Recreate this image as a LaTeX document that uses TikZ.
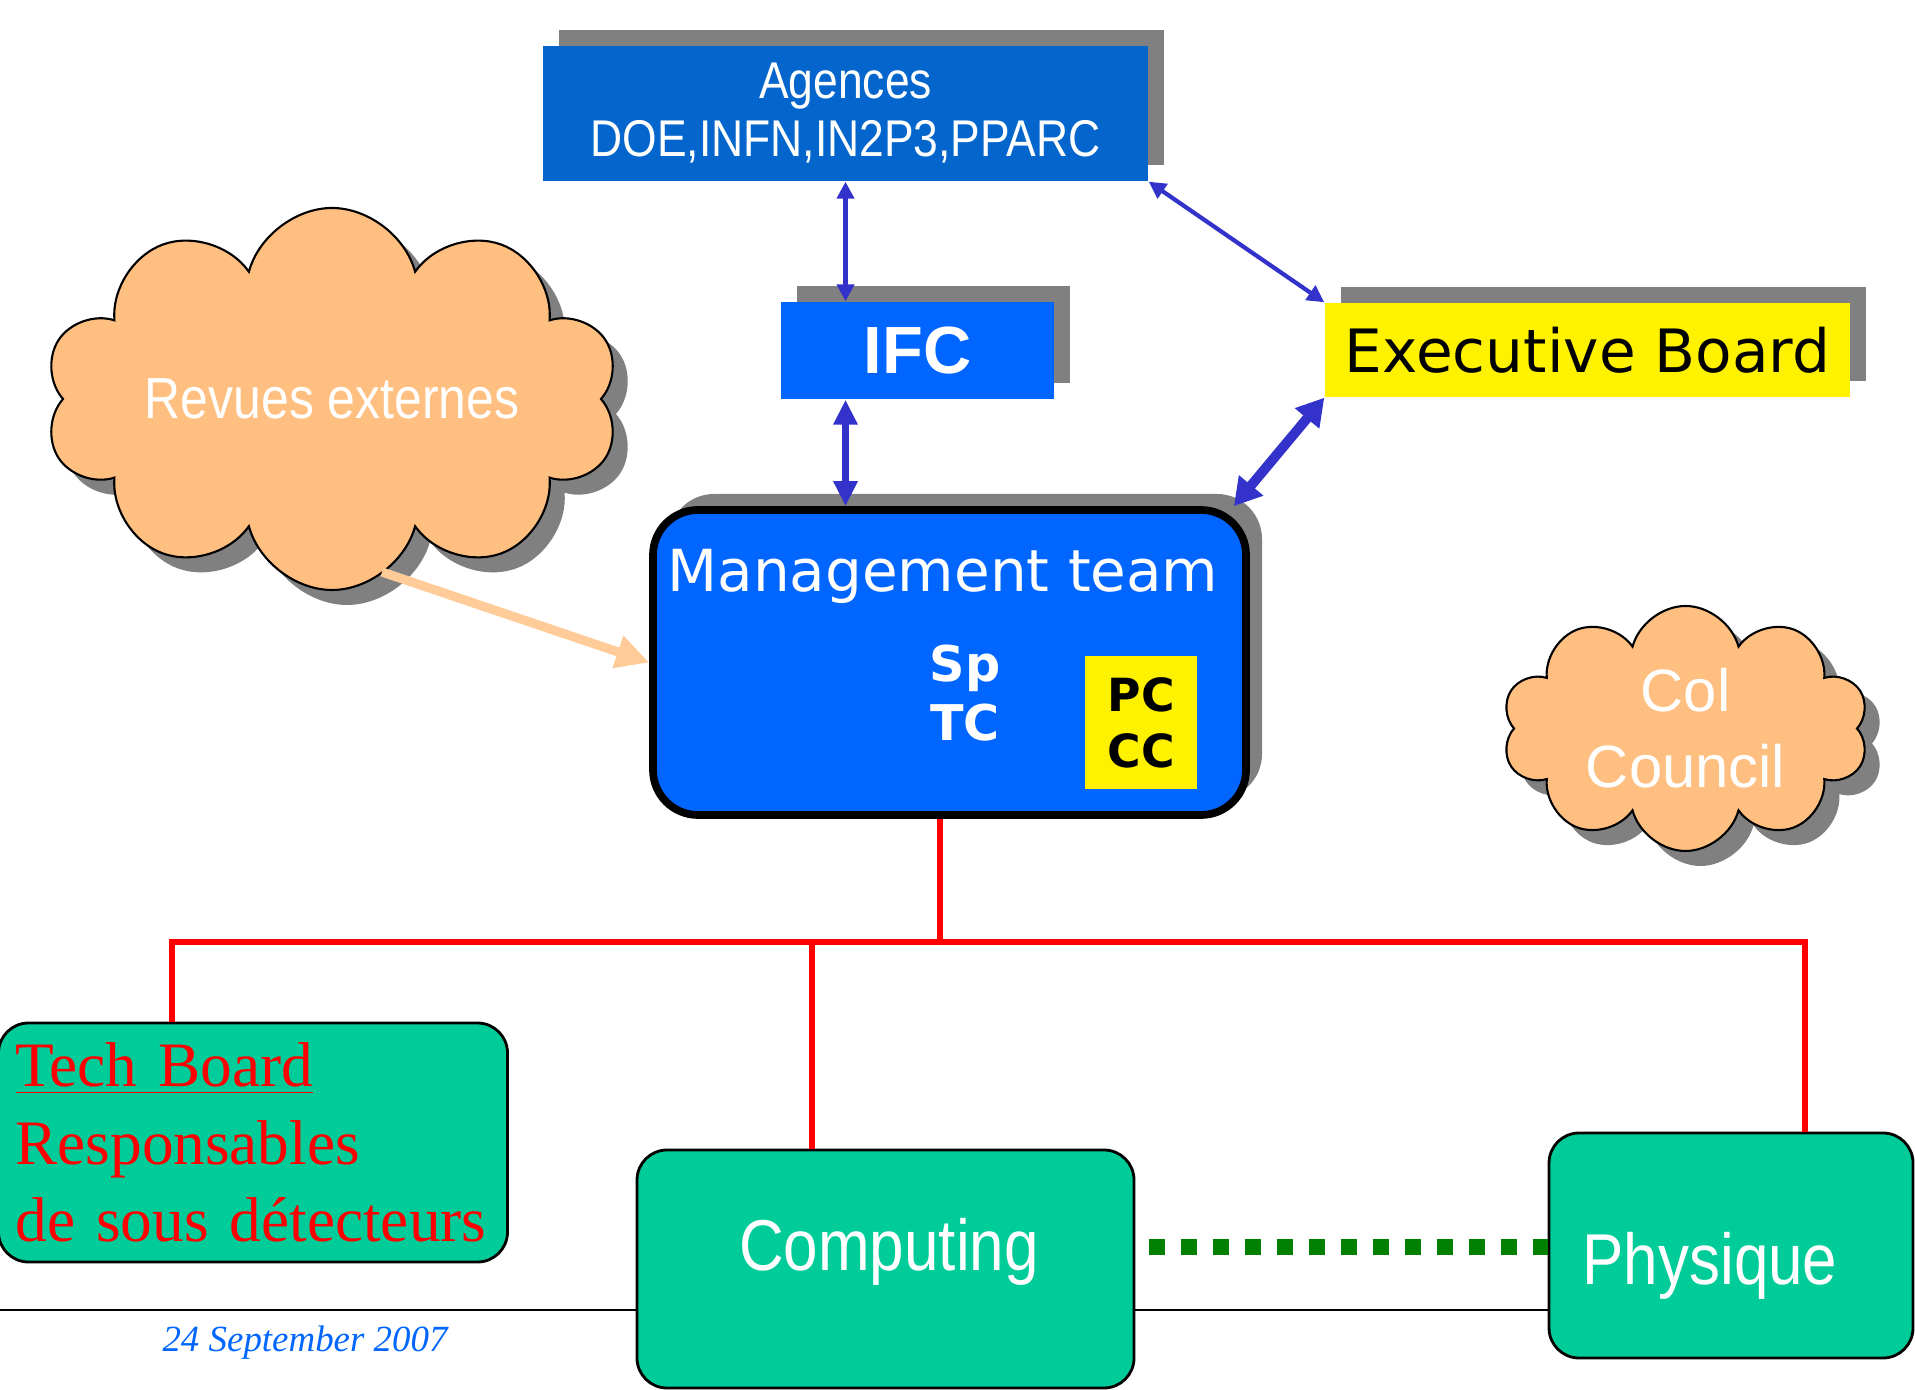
\documentclass[tikz,border=0pt]{standalone}
\usepackage{fontspec}
\setmainfont{Liberation Serif}
\setsansfont{Liberation Sans}
\newfontfamily\narrowfont[FakeStretch=0.86]{Liberation Sans}
\newfontfamily\roundfont{DejaVu Sans}
\definecolor{agblue}{RGB}{4,102,204}
\definecolor{boxblue}{RGB}{0,102,255}
\definecolor{arrblue}{RGB}{51,51,204}
\definecolor{shadowgray}{RGB}{128,128,128}
\definecolor{cloudorange}{RGB}{255,191,128}
\definecolor{lightorange}{RGB}{255,204,153}
\definecolor{teamgreen}{RGB}{0,204,153}
\definecolor{dotgreen}{RGB}{0,128,0}
\usetikzlibrary{shapes.symbols,shadows,arrows.meta}

\begin{document}
\begin{tikzpicture}[
  boxshadow/.style={drop shadow={shadow xshift=0.16cm, shadow yshift=0.16cm, fill=shadowgray, opacity=1}},
  cloudshadow/.style={drop shadow={shadow xshift=0.15cm, shadow yshift=-0.15cm, fill=shadowgray, opacity=1}},
  topbox/.style={rectangle, inner sep=0pt, boxshadow},
  puff/.style={cloud, cloud puffs=10, cloud ignores aspect, draw=black, line width=0.6pt, fill=cloudorange, inner sep=0pt, cloudshadow},
  cloudtext/.style={text=white, align=center},
  teambox/.style={rectangle, rounded corners=0.3cm, draw=black, line width=0.8pt, fill=teamgreen},
  teamtext/.style={text=white, font=\narrowfont\fontsize{20.5}{24}\selectfont},
  redline/.style={red, line width=1.9pt},
  thinarrow/.style={<->, arrblue, line width=1.2pt, >={Triangle[length=0.17cm, width=0.17cm]}},
  midarrow/.style={<->, arrblue, line width=2pt, >={Triangle[length=0.25cm, width=0.23cm]}},
  fatarrow/.style={<->, arrblue, line width=2.8pt, >={Triangle[length=0.27cm, width=0.30cm]}}
]
  \useasboundingbox (0,0) rectangle (19.15,13.89);

  %% Agences, IFC and Executive Board
  \node[topbox, fill=agblue, minimum width=6.05cm, minimum height=1.35cm, text=white, align=center,
        font=\narrowfont\fontsize{14.7}{16.5}\selectfont] (agences) at (8.455,12.755) {Agences\\DOE,INFN,IN2P3,PPARC};
  \node[topbox, fill=boxblue, minimum width=2.73cm, minimum height=0.97cm, text=white,
        font=\sffamily\bfseries\fontsize{19}{22}\selectfont] (ifc) at (9.175,10.385) {IFC};
  \node[topbox, fill=yellow, minimum width=5.25cm, minimum height=0.94cm,
        font=\roundfont\fontsize{17}{20}\selectfont] (exec) at (15.875,10.39) {Executive Board};

  %% Management team
  \node[topbox, fill=boxblue, draw=black, line width=2.2pt, rounded corners=0.45cm,
        minimum width=5.93cm, minimum height=3.05cm] (mgmt) at (9.495,7.265) {};
  \node[text=white, font=\roundfont\fontsize{16.5}{19}\selectfont] (mgmttitle) at (9.43,8.13) {Management team};
  \node[text=white, align=center, font=\roundfont\bfseries\fontsize{14}{17}\selectfont] (sptc) at (9.65,6.96) {Sp\\TC};
  \node[fill=yellow, minimum width=1.12cm, minimum height=1.33cm, inner sep=0pt, align=center,
        font=\roundfont\bfseries\fontsize{13}{16}\selectfont] (pccc) at (11.41,6.665) {PC\\CC};

  %% Clouds
  \node[puff, minimum width=5.75cm, minimum height=3.82cm,
        label={[cloudtext, font=\narrowfont\fontsize{16.5}{19}\selectfont]center:Revues externes}] (revues) at (3.32,9.90) {};
  \node[puff, minimum width=3.67cm, minimum height=2.45cm,
        label={[cloudtext, font=\sffamily\fontsize{17}{21.6}\selectfont]center:Col\\Council}] (colcouncil) at (16.855,6.605) {};

  %% Bottom rule and date
  \coordinate (rule) at (0,0.79);
  \node[text=boxblue, font=\itshape\fontsize{10.5}{12}\selectfont] (date) at (3.05,0.46) {24 September 2007};

  %% Teams
  \node[teambox, text width=4.75cm, inner xsep=0.17cm, minimum height=2.39cm, align=left, text=red,
        font=\fontsize{18}{22}\selectfont] (tech) at (2.53,2.465) {\underline{Tech Board}\\Responsables\\de sous détecteurs};
  \node[teambox, minimum width=4.97cm, minimum height=2.38cm] (comp) at (8.855,1.20) {};
  \node[teambox, minimum width=3.64cm, minimum height=2.25cm] (phys) at (17.31,1.435) {};
  \node[teamtext] (comptxt) at (8.89,1.37) {Computing};
  \node[teamtext] (phystxt) at (17.10,1.23) {Physique};

  \draw[line width=0.8pt] (rule) -- (rule -| comp.west);
  \draw[line width=0.8pt] (rule -| comp.east) -- (rule -| phys.west);

  %% Red tree from the management team
  \coordinate (busL) at (1.72,4.47);
  \coordinate (busC) at (8.12,4.47);
  \coordinate (busM) at (9.40,4.47);
  \coordinate (busR) at (18.05,4.47);
  \draw[redline] (busM |- mgmt.south) -- (busM);
  \draw[redline] (busL |- tech.north) -- (busL) -- (busR) -- (busR |- phys.north);
  \draw[redline] (busC) -- (busC |- comp.north);

  %% Computing -- Physique
  \coordinate (dots) at (11.49,1.42);
  \draw[dotgreen, line width=0.16cm, dash pattern=on 0.16cm off 0.16cm] (dots) -- (dots -| phys.west);

  %% Arrows
  \draw[thinarrow] (agences.south) -- (agences.south |- ifc.north);
  \draw[midarrow] (agences.south |- ifc.south) -- (agences.south |- mgmt.north);
  \draw[thinarrow] (agences.south east) -- (exec.north west);
  \draw[fatarrow] (exec.south west) -- ([xshift=-0.16cm]mgmt.north east);
  \coordinate (revfoot) at (3.82,8.17);
  \draw[-{Triangle[length=0.33cm, width=0.32cm]}, lightorange, line width=2.6pt] (revfoot) -- (mgmt.west);
\end{tikzpicture}
\end{document}
